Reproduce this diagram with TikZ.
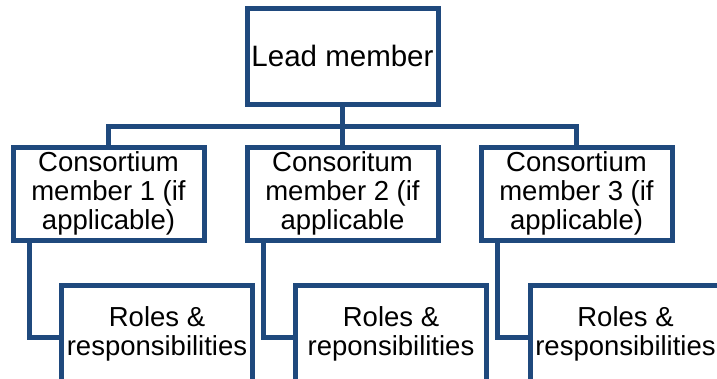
\documentclass[tikz,border=0pt]{standalone}
\usepackage{fontspec}
\setmainfont{Liberation Sans}
\definecolor{boxblue}{RGB}{31,73,125}

\begin{document}
\begin{tikzpicture}[x=1pt,y=-1pt,
    box/.style={draw=boxblue, line width=5pt, fill=white, align=center,
      inner sep=0pt, minimum width=191pt, minimum height=93pt,
      font=\fontsize{27.5}{29}\selectfont},
    link/.style={draw=boxblue, line width=5pt}]
  \useasboundingbox (0,0) rectangle (717,378);
  \clip (0,0) rectangle (717,378);
  \node[box, minimum height=96pt, font=\fontsize{29.5}{31}\selectfont] (lead) at (342.5,56) {Lead member};
  \node[box] (cm1) at (108.5,193.5) {Consortium\\member 1 (if\\applicable)};
  \node[box] (cm2) at (342.5,193.5) {Consoritum\\member 2 (if\\applicable};
  \node[box] (cm3) at (576.5,193.5) {Consortium\\member 3 (if\\applicable)};
  \node[box, minimum height=98pt] (roles1) at (157,334) {Roles \&\\responsibilities};
  \node[box, minimum height=98pt] (roles2) at (391,334) {Roles \&\\reponsibilities};
  \node[box, minimum height=98pt] (roles3) at (625.5,334) {Roles \&\\responsibilities};
  \coordinate (bus) at (0,126);
  \draw[link] (lead.south) -- (lead.south |- bus) -| (cm1.north);
  \draw[link] (lead.south |- bus) -| (cm3.north);
  \draw[link] (lead.south) -- (cm2.north);
  \foreach \i in {1,2,3}{
    \coordinate (t\i) at ([xshift=19pt]cm\i.south west);
    \draw[link] (t\i) |- ([yshift=-3pt]roles\i.west);
  }
\end{tikzpicture}
\end{document}
